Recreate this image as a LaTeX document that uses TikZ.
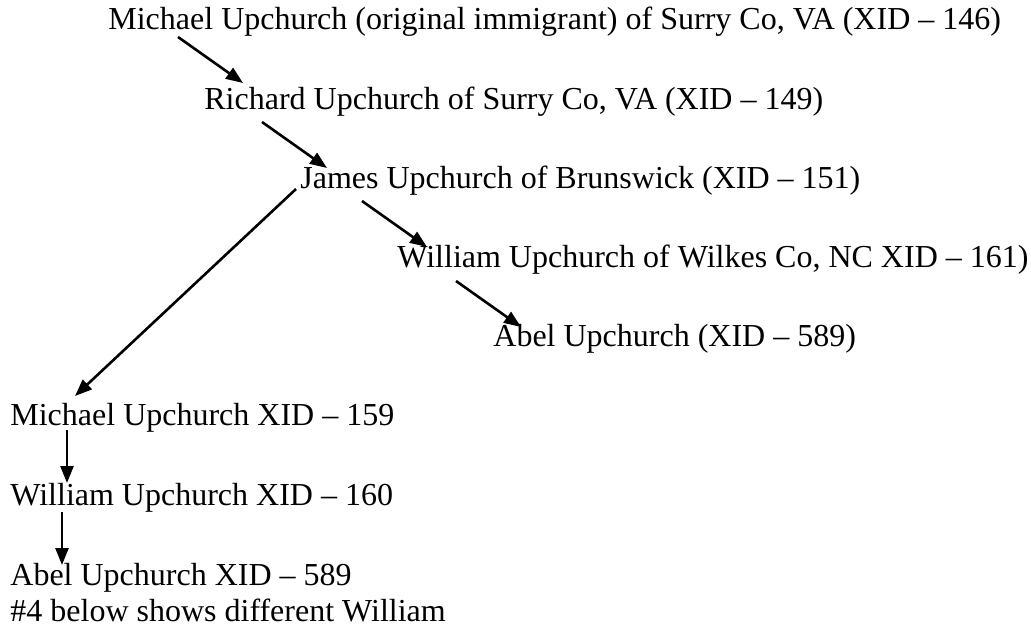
\documentclass[tikz,border=0pt]{standalone}
\usepackage{fontspec}
\setmainfont{Liberation Serif}
\usetikzlibrary{calc,arrows.meta}

\begin{document}
\begin{tikzpicture}[x=0.5pt,y=-0.5pt,
    person/.style={anchor=base west,inner sep=0pt,font=\fontsize{16}{19}\selectfont},
    link/.style={line width=1.3pt,-{Triangle[length=8.5pt,width=6.5pt]}}]
    \useasboundingbox (0,0) rectangle (1031,630);
    \node[person] (m146) at (108,30) {Michael Upchurch (original immigrant) of Surry Co, VA (XID – 146)};
    \node[person] (r149) at (204,110) {Richard Upchurch of Surry Co, VA (XID – 149)};
    \node[person] (j151) at (300,189) {James Upchurch of Brunswick (XID – 151)};
    \node[person] (w161) at (397,268) {William Upchurch of Wilkes Co, NC XID – 161)};
    \node[person] (a589) at (493,346) {Abel Upchurch (XID – 589)};
    \node[person] (m159) at (10,425) {Michael Upchurch XID – 159};
    \node[person] (w160) at (10,505) {William Upchurch XID – 160};
    \node[person] (b589) at (10,585) {Abel Upchurch XID – 589};
    \node[person] (note) at (10,621) {\#4 below shows different William};
    % line of descent
    \draw[link] ([shift={(70,7)}]m146.base west) -- ([shift={(39,-27)}]r149.base west);
    \draw[link] ([shift={(58,12)}]r149.base west) -- ([shift={(27,-21)}]j151.base west);
    \draw[link] ([shift={(62,12)}]j151.base west) -- ([shift={(30,-21)}]w161.base west);
    \draw[link] ([shift={(59,13)}]w161.base west) -- ([shift={(28,-19)}]a589.base west);
    \draw[link] ([shift={(-4,0)}]j151.base west) -- ([shift={(65,-29)}]m159.base west);
    \draw[link] ([shift={(57,5)}]m159.base west) -- ([shift={(57,-22)}]w160.base west);
    \draw[link] ([shift={(52,7)}]w160.base west) -- ([shift={(52,-20)}]b589.base west);
\end{tikzpicture}
\end{document}
